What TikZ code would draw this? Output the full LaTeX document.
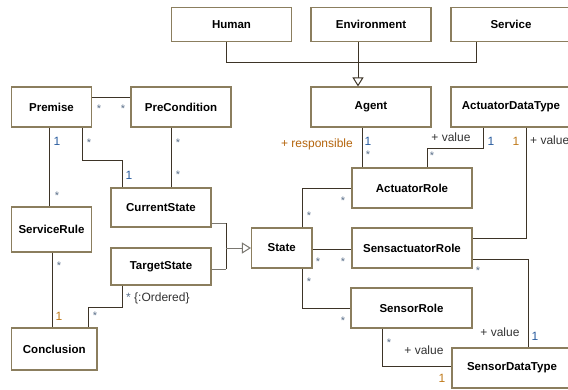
\documentclass[tikz,border=0pt]{standalone}
\usepackage{fontspec}
\setmainfont{Liberation Sans}
\usetikzlibrary{arrows.meta}
\definecolor{boxborder}{HTML}{8B7E5E}
\definecolor{linec}{HTML}{3D3427}
\definecolor{stubc}{HTML}{7A7770}
\definecolor{starc}{HTML}{5A6F8A}
\definecolor{bluec}{HTML}{2A5D9F}
\definecolor{orangec}{HTML}{C07A1A}
\definecolor{respc}{HTML}{B5650D}
\definecolor{valc}{HTML}{333333}
\begin{document}
\begin{tikzpicture}[x=1pt,y=-1pt,
  box/.style={draw=boxborder, line width=1.1pt, fill=white, inner sep=0pt,
    font=\fontsize{11.5}{13}\selectfont\bfseries},
  conn/.style={draw=linec, line width=1pt},
  stub/.style={draw=stubc, line width=1pt},
  lbl/.style={inner sep=0pt, anchor=base, font=\fontsize{12}{14}\selectfont},
  star/.style={lbl, text=starc, font=\fontsize{11}{13}\selectfont},
  oneb/.style={lbl, text=bluec},
  oneo/.style={lbl, text=orangec},
  val/.style={lbl, text=valc},
  gen/.style={-{Triangle[open, length=9pt, width=11pt, fill=white]}}]
\useasboundingbox (0,0) rectangle (568,389);
\fill[white] (0,0) rectangle (568,389);
\begin{scope}
\clip (0,0) rectangle (568,389);
% boxes
\node[box, minimum width=120pt, minimum height=34pt] (Human) at (231.5,24.5) {Human};
\node[box, minimum width=120pt, minimum height=34pt] (Environment) at (371,24.5) {Environment};
\node[box, minimum width=120pt, minimum height=34pt] (Service) at (511,24.5) {Service};
\node[box, minimum width=80pt, minimum height=40pt] (Premise) at (51.5,107) {Premise};
\node[box, minimum width=100pt, minimum height=40pt] (PreCondition) at (181,107) {PreCondition};
\node[box, minimum width=120pt, minimum height=40pt] (Agent) at (371,107) {Agent};
\node[box, minimum width=120pt, minimum height=40pt] (ADT) at (511,107) {ActuatorDataType};
\node[box, minimum width=100pt, minimum height=39pt] (CurrentState) at (161,207.5) {CurrentState};
\node[box, minimum width=120pt, minimum height=40pt] (ActuatorRole) at (412,188) {ActuatorRole};
\node[box, minimum width=80pt, minimum height=45pt] (ServiceRule) at (51.5,229.5) {ServiceRule};
\node[box, minimum width=60.5pt, minimum height=40pt] (State) at (281.75,248) {State};
\node[box, minimum width=120pt, minimum height=40pt] (SensactuatorRole) at (412,248) {SensactuatorRole};
\node[box, minimum width=100pt, minimum height=37pt] (TargetState) at (161,266.5) {TargetState};
\node[box, minimum width=121pt, minimum height=40pt] (SensorRole) at (411.5,308) {SensorRole};
\node[box, minimum width=85.5pt, minimum height=42pt] (Conclusion) at (54.25,349) {Conclusion};
\node[box, minimum width=120pt, minimum height=40pt] (SensorDataType) at (512,368) {SensorDataType};

% helper coordinates
\coordinate (busL) at (226,62);
\coordinate (busR) at (476,62);
\coordinate (envx) at (358,0);
\coordinate (ppy) at (0,97);
\coordinate (x49) at (49,0);
\coordinate (pc1) at (82,160);
\coordinate (pc2) at (122,160);
\coordinate (x171) at (171,0);
\coordinate (x52) at (52,0);
\coordinate (tc1) at (122,307);
\coordinate (tc2) at (88,307);
\coordinate (stA) at (226,223);
\coordinate (stB) at (226,269);
\coordinate (stM) at (226,248);
\coordinate (x362) at (362,0);
\coordinate (aa1) at (483,148);
\coordinate (aa2) at (427,148);
\coordinate (as1) at (526,238);
\coordinate (sa1) at (302,188);
\coordinate (y249) at (0,249);
\coordinate (ss1) at (302,308);
\coordinate (sd1) at (528,259);
\coordinate (rd1) at (382,366);

% generalisation Human/Environment/Service -> Agent
\draw[conn] (Human.south -| busL) -- (busL) -- (busR) -- (Service.south -| busR);
\draw[conn, gen] (Environment.south -| envx) -- (Agent.north -| envx);

% Premise - PreCondition
\draw[conn] (Premise.east |- ppy) -- (PreCondition.west |- ppy);
% Premise - ServiceRule
\draw[conn] (Premise.south -| x49) -- (ServiceRule.north -| x49);
% Premise - CurrentState
\draw[conn] (Premise.south -| pc1) -- (pc1) -- (pc2) -- (CurrentState.north -| pc2);
% PreCondition - CurrentState
\draw[conn] (PreCondition.south -| x171) -- (CurrentState.north -| x171);
% ServiceRule - Conclusion
\draw[conn] (ServiceRule.south -| x52) -- (Conclusion.north -| x52);
% TargetState - Conclusion
\draw[conn] (TargetState.south -| tc1) -- (tc1) -- (tc2) -- (Conclusion.north -| tc2);
% CurrentState / TargetState -> State
\draw[stub] (CurrentState.east |- stA) -- (stA);
\draw[stub] (TargetState.east |- stB) -- (stB);
\draw[conn] (stA) -- (stB);
\draw[stub, gen] (stM) -- (State.west);
% Agent - ActuatorRole
\draw[conn] (Agent.south -| x362) -- (ActuatorRole.north -| x362);
% ADT - ActuatorRole
\draw[conn] (ADT.south -| aa1) -- (aa1) -- (aa2) -- (ActuatorRole.north -| aa2);
% ADT - SensactuatorRole
\draw[conn] (ADT.south -| as1) -- (as1) -- (SensactuatorRole.east |- as1);
% State - ActuatorRole
\draw[conn] (State.north -| sa1) -- (sa1) -- (ActuatorRole.west |- sa1);
% State - SensactuatorRole
\draw[conn] (State.east |- y249) -- (SensactuatorRole.west |- y249);
% State - SensorRole
\draw[conn] (State.south -| ss1) -- (ss1) -- (SensorRole.west |- ss1);
% SensactuatorRole - SensorDataType
\draw[conn] (SensactuatorRole.east |- sd1) -- (sd1) -- (SensorDataType.north -| sd1);
% SensorRole - SensorDataType
\draw[conn] (SensorRole.south -| rd1) -- (rd1) -- (SensorDataType.west |- rd1);

% multiplicities
\node[star] (s1) at (99,112) {*};
\node[star] (s2) at (123,112) {*};
\node[star] (s3) at (57,199) {*};
\node[star] (s4) at (89,146) {*};
\node[star] (s5) at (178,146) {*};
\node[star] (s6) at (178,178) {*};
\node[star] (s7) at (59,269) {*};
\node[star] (s8) at (95,319) {*};
\node[star] (s9) at (368,158) {*};
\node[star] (s10) at (432,159) {*};
\node[star] (s11) at (309,219) {*};
\node[star] (s12) at (343,204) {*};
\node[star] (s13) at (318,265) {*};
\node[star] (s14) at (343,265) {*};
\node[star] (s15) at (309,285) {*};
\node[star] (s16) at (343,324) {*};
\node[star] (s17) at (478,274) {*};
\node[star] (s18) at (389,346) {*};
\node[lbl, text=starc, anchor=base west] (ord) at (126,301) {* \textcolor{valc}{\{:Ordered\}}};

\node[oneb] (o1) at (57,145) {1};
\node[oneb] (o2) at (129,179) {1};
\node[oneb] (o3) at (368,145) {1};
\node[oneb] (o4) at (491,145) {1};
\node[oneb] (o5) at (535,340) {1};
\node[oneo] (o6) at (59,320) {1};
\node[oneo] (o7) at (516,145) {1};
\node[oneo] (o8) at (442,382) {1};

% role names
\node[lbl, text=respc, anchor=base east] (resp) at (353,147) {+ responsible};
\node[val] (v1) at (451,141) {+ value};
\node[val, anchor=base west] (v2) at (530,144) {+ value};
\node[val] (v3) at (500,336) {+ value};
\node[val] (v4) at (424,354) {+ value};
\end{scope}
\end{tikzpicture}
\end{document}
